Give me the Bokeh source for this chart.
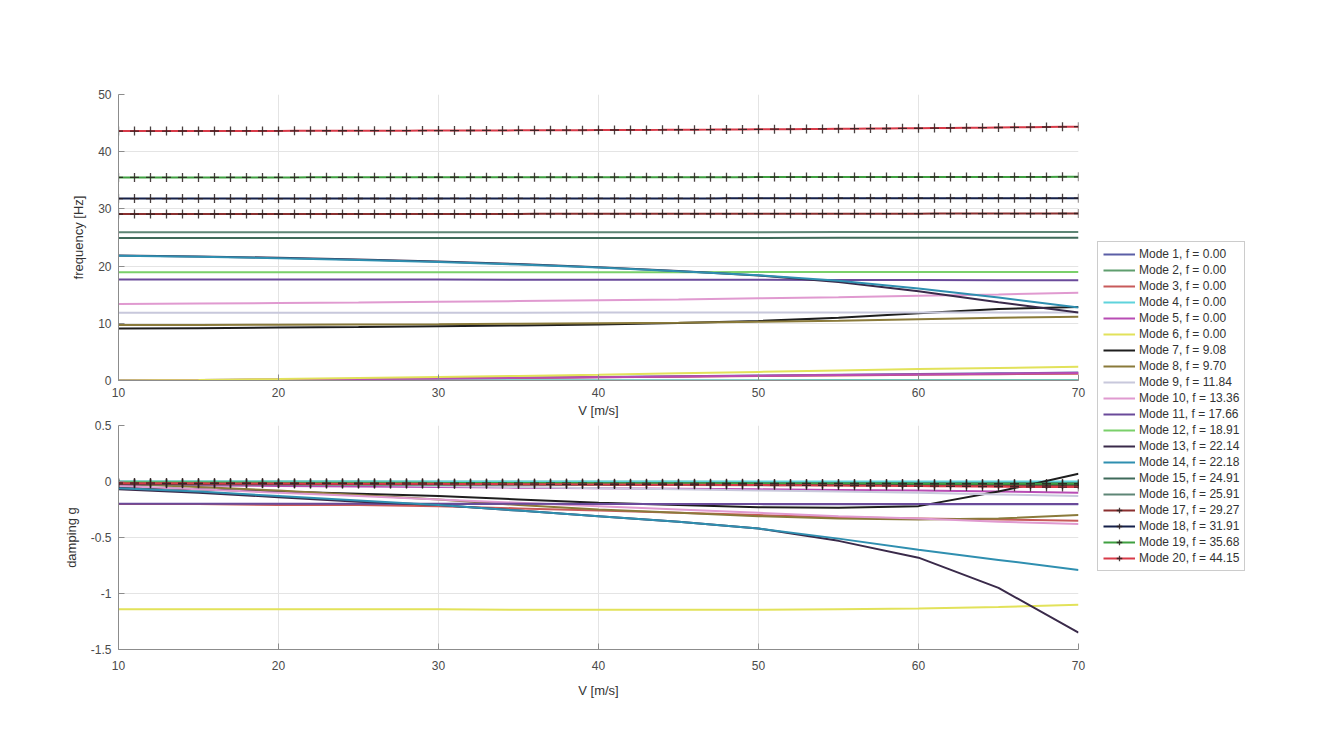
from bokeh.plotting import figure
from bokeh.layouts import row, column
from bokeh.models import Legend, LegendItem, FixedTicker, Range1d
from bokeh.embed import file_html
from bokeh.resources import INLINE

# ---------------- data ----------------
V = [10, 15, 20, 25, 30, 35, 40, 45, 50, 55, 60, 65, 70]
V_FINE = list(range(10, 71))

MODE_LABELS = [
    "Mode 1, f = 0.00", "Mode 2, f = 0.00", "Mode 3, f = 0.00", "Mode 4, f = 0.00",
    "Mode 5, f = 0.00", "Mode 6, f = 0.00", "Mode 7, f = 9.08", "Mode 8, f = 9.70",
    "Mode 9, f = 11.84", "Mode 10, f = 13.36", "Mode 11, f = 17.66", "Mode 12, f = 18.91",
    "Mode 13, f = 22.14", "Mode 14, f = 22.18", "Mode 15, f = 24.91", "Mode 16, f = 25.91",
    "Mode 17, f = 29.27", "Mode 18, f = 31.91", "Mode 19, f = 35.68", "Mode 20, f = 44.15",
]
COLORS = [
    "#5b5ea6", "#5f9e6e", "#c85a5a", "#5fd3dc", "#b84cb4", "#e2e25a", "#1e1e1e", "#8a7a3a",
    "#c8c8dc", "#e09ad0", "#6a4a9a", "#7ad06a", "#3a2a4a", "#2f8fb0", "#3f6a5a", "#5e8676",
    "#8a2f2f", "#15204a", "#3fa040", "#d83a48",
]

# frequencies [Hz], modes 1-16 at V
FREQ_1 = [0.00, 0.08, 0.17, 0.27, 0.38, 0.50, 0.62, 0.75, 0.88, 1.00, 1.12, 1.25, 1.38]
FREQ_2 = [0.00, 0.00, 0.00, 0.01, 0.01, 0.01, 0.02, 0.02, 0.02, 0.03, 0.03, 0.03, 0.04]
FREQ_3 = [0.00, 0.06, 0.14, 0.24, 0.34, 0.45, 0.56, 0.67, 0.78, 0.89, 1.00, 1.10, 1.20]
FREQ_4 = [0.00, 0.00, 0.00, 0.00, 0.00, 0.00, 0.00, 0.00, 0.00, 0.00, 0.00, 0.00, 0.00]
FREQ_5 = [0.00, 0.07, 0.15, 0.25, 0.35, 0.46, 0.57, 0.70, 0.82, 0.95, 1.07, 1.18, 1.30]
FREQ_6 = [0.00, 0.10, 0.25, 0.42, 0.60, 0.80, 1.00, 1.25, 1.50, 1.75, 2.00, 2.20, 2.40]
FREQ_7 = [9.08, 9.15, 9.25, 9.35, 9.48, 9.62, 9.80, 10.05, 10.40, 10.95, 11.75, 12.50, 12.85]
FREQ_8 = [9.70, 9.72, 9.75, 9.80, 9.85, 9.92, 10.00, 10.10, 10.25, 10.45, 10.70, 10.95, 11.15]
FREQ_9 = [11.84, 11.84, 11.85, 11.85, 11.86, 11.86, 11.87, 11.87, 11.88, 11.88, 11.89, 11.89, 11.90]
FREQ_10 = [13.36, 13.45, 13.55, 13.65, 13.76, 13.88, 14.02, 14.18, 14.36, 14.56, 14.80, 15.05, 15.35]
FREQ_11 = [17.66, 17.66, 17.65, 17.65, 17.64, 17.63, 17.62, 17.61, 17.60, 17.58, 17.56, 17.54, 17.52]
FREQ_12 = [18.91, 18.91, 18.92, 18.92, 18.93, 18.93, 18.94, 18.94, 18.95, 18.95, 18.96, 18.96, 18.97]
FREQ_13 = [21.85, 21.70, 21.45, 21.15, 20.80, 20.35, 19.80, 19.15, 18.35, 17.20, 15.60, 13.70, 11.90]
FREQ_14 = [21.80, 21.62, 21.38, 21.08, 20.72, 20.28, 19.75, 19.12, 18.40, 17.45, 16.10, 14.50, 12.75]
FREQ_15 = [24.91, 24.91, 24.91, 24.92, 24.92, 24.92, 24.93, 24.93, 24.93, 24.94, 24.94, 24.94, 24.95]
FREQ_16 = [25.91, 25.91, 25.91, 25.92, 25.92, 25.92, 25.93, 25.93, 25.93, 25.94, 25.94, 25.94, 25.95]

# damping g, modes 1-16 at V
DAMP_1 = [-0.200, -0.200, -0.200, -0.201, -0.201, -0.201, -0.202, -0.202, -0.202, -0.203, -0.203, -0.203, -0.204]
DAMP_2 = [0.000, 0.000, -0.001, -0.001, -0.002, -0.002, -0.003, -0.003, -0.004, -0.004, -0.005, -0.005, -0.006]
DAMP_3 = [-0.20, -0.20, -0.21, -0.21, -0.22, -0.24, -0.26, -0.28, -0.30, -0.32, -0.33, -0.34, -0.35]
DAMP_4 = [0.000, 0.000, 0.000, 0.000, 0.000, 0.000, 0.000, 0.000, 0.000, 0.000, 0.000, 0.000, 0.000]
DAMP_5 = [-0.03, -0.035, -0.04, -0.045, -0.05, -0.055, -0.06, -0.065, -0.07, -0.075, -0.08, -0.09, -0.10]
DAMP_6 = [-1.14, -1.14, -1.14, -1.14, -1.14, -1.145, -1.145, -1.145, -1.145, -1.14, -1.135, -1.12, -1.10]
DAMP_7 = [-0.05, -0.07, -0.09, -0.11, -0.13, -0.16, -0.19, -0.21, -0.23, -0.235, -0.22, -0.09, 0.07]
DAMP_8 = [-0.02, -0.05, -0.08, -0.12, -0.16, -0.21, -0.25, -0.28, -0.31, -0.33, -0.34, -0.33, -0.30]
DAMP_9 = [-0.01, -0.015, -0.02, -0.03, -0.04, -0.05, -0.06, -0.07, -0.08, -0.09, -0.10, -0.115, -0.13]
DAMP_10 = [-0.04, -0.07, -0.10, -0.13, -0.16, -0.19, -0.22, -0.25, -0.28, -0.31, -0.33, -0.36, -0.38]
DAMP_11 = [-0.198, -0.198, -0.199, -0.199, -0.199, -0.199, -0.200, -0.200, -0.200, -0.200, -0.200, -0.200, -0.200]
DAMP_12 = [-0.010, -0.012, -0.013, -0.015, -0.016, -0.018, -0.019, -0.021, -0.022, -0.024, -0.026, -0.028, -0.030]
DAMP_13 = [-0.07, -0.10, -0.14, -0.18, -0.21, -0.26, -0.31, -0.36, -0.42, -0.53, -0.68, -0.95, -1.35]
DAMP_14 = [-0.06, -0.09, -0.13, -0.17, -0.21, -0.26, -0.31, -0.36, -0.42, -0.51, -0.61, -0.70, -0.79]
DAMP_15 = [-0.020, -0.021, -0.022, -0.023, -0.024, -0.025, -0.026, -0.027, -0.028, -0.029, -0.030, -0.031, -0.032]
DAMP_16 = [-0.025, -0.026, -0.027, -0.028, -0.029, -0.030, -0.031, -0.032, -0.033, -0.034, -0.035, -0.036, -0.037]

# modes 17-20 at V_FINE (with markers)
FREQ_17 = [29.10, 29.10, 29.10, 29.10, 29.10, 29.11, 29.11, 29.11, 29.11, 29.11,
           29.11, 29.11, 29.12, 29.12, 29.12, 29.12, 29.12, 29.12, 29.12, 29.13,
           29.13, 29.13, 29.13, 29.13, 29.13, 29.13, 29.14, 29.14, 29.14, 29.14,
           29.14, 29.14, 29.14, 29.15, 29.15, 29.15, 29.15, 29.15, 29.15, 29.15,
           29.16, 29.16, 29.16, 29.16, 29.16, 29.16, 29.17, 29.17, 29.17, 29.17,
           29.17, 29.18, 29.18, 29.18, 29.18, 29.19, 29.19, 29.19, 29.19, 29.20,
           29.20]
FREQ_18 = [31.80, 31.80, 31.80, 31.80, 31.80, 31.80, 31.81, 31.81, 31.81, 31.81,
           31.81, 31.81, 31.81, 31.82, 31.82, 31.82, 31.82, 31.82, 31.82, 31.82,
           31.82, 31.83, 31.83, 31.83, 31.83, 31.83, 31.83, 31.83, 31.83, 31.83,
           31.84, 31.84, 31.84, 31.84, 31.84, 31.84, 31.84, 31.84, 31.85, 31.85,
           31.85, 31.85, 31.85, 31.85, 31.85, 31.86, 31.86, 31.86, 31.86, 31.86,
           31.86, 31.87, 31.87, 31.87, 31.87, 31.87, 31.88, 31.88, 31.88, 31.88,
           31.88]
FREQ_19 = [35.50, 35.50, 35.50, 35.50, 35.50, 35.51, 35.51, 35.51, 35.51, 35.51,
           35.51, 35.51, 35.52, 35.52, 35.52, 35.52, 35.52, 35.52, 35.52, 35.53,
           35.53, 35.53, 35.53, 35.53, 35.53, 35.53, 35.54, 35.54, 35.54, 35.54,
           35.54, 35.54, 35.54, 35.55, 35.55, 35.55, 35.55, 35.55, 35.55, 35.55,
           35.56, 35.56, 35.56, 35.56, 35.56, 35.56, 35.57, 35.57, 35.57, 35.57,
           35.57, 35.58, 35.58, 35.58, 35.58, 35.59, 35.59, 35.59, 35.59, 35.60,
           35.60]
FREQ_20 = [43.60, 43.60, 43.61, 43.61, 43.62, 43.62, 43.62, 43.63, 43.63, 43.64,
           43.64, 43.65, 43.65, 43.66, 43.66, 43.67, 43.67, 43.68, 43.68, 43.69,
           43.70, 43.70, 43.71, 43.72, 43.72, 43.73, 43.74, 43.75, 43.76, 43.77,
           43.78, 43.79, 43.80, 43.81, 43.82, 43.84, 43.85, 43.86, 43.88, 43.89,
           43.91, 43.93, 43.94, 43.96, 43.98, 44.00, 44.02, 44.04, 44.06, 44.08,
           44.10, 44.13, 44.15, 44.18, 44.20, 44.23, 44.26, 44.29, 44.32, 44.35,
           44.38]
DAMP_17 = [-0.020, -0.020, -0.020, -0.020, -0.020, -0.021, -0.021, -0.021, -0.021, -0.021,
           -0.021, -0.022, -0.022, -0.022, -0.022, -0.022, -0.023, -0.023, -0.023, -0.023,
           -0.023, -0.024, -0.024, -0.024, -0.024, -0.024, -0.025, -0.025, -0.025, -0.025,
           -0.025, -0.026, -0.026, -0.026, -0.026, -0.026, -0.027, -0.027, -0.027, -0.027,
           -0.027, -0.028, -0.028, -0.028, -0.028, -0.028, -0.029, -0.029, -0.029, -0.029,
           -0.029, -0.030, -0.030, -0.030, -0.030, -0.030, -0.030, -0.030, -0.030, -0.030,
           -0.030]
DAMP_18 = [-0.015, -0.015, -0.015, -0.015, -0.015, -0.015, -0.015, -0.015, -0.015, -0.015,
           -0.016, -0.016, -0.016, -0.016, -0.016, -0.016, -0.016, -0.016, -0.016, -0.016,
           -0.017, -0.017, -0.017, -0.017, -0.017, -0.017, -0.017, -0.017, -0.017, -0.017,
           -0.018, -0.018, -0.018, -0.018, -0.018, -0.018, -0.018, -0.018, -0.018, -0.018,
           -0.019, -0.019, -0.019, -0.019, -0.019, -0.019, -0.019, -0.019, -0.019, -0.019,
           -0.020, -0.020, -0.020, -0.020, -0.020, -0.020, -0.020, -0.020, -0.020, -0.020,
           -0.020]
DAMP_19 = [-0.010, -0.010, -0.010, -0.010, -0.010, -0.010, -0.010, -0.010, -0.010, -0.010,
           -0.012, -0.012, -0.012, -0.012, -0.012, -0.012, -0.012, -0.012, -0.012, -0.012,
           -0.014, -0.014, -0.014, -0.014, -0.014, -0.014, -0.014, -0.014, -0.014, -0.014,
           -0.016, -0.016, -0.016, -0.016, -0.016, -0.016, -0.016, -0.016, -0.016, -0.016,
           -0.018, -0.018, -0.018, -0.018, -0.018, -0.018, -0.018, -0.018, -0.018, -0.018,
           -0.020, -0.020, -0.020, -0.020, -0.020, -0.020, -0.020, -0.020, -0.020, -0.020,
           -0.020]
DAMP_20 = [-0.015, -0.015, -0.015, -0.016, -0.016, -0.016, -0.017, -0.017, -0.017, -0.018,
           -0.018, -0.018, -0.019, -0.019, -0.019, -0.020, -0.020, -0.020, -0.021, -0.021,
           -0.021, -0.022, -0.022, -0.023, -0.023, -0.024, -0.024, -0.025, -0.025, -0.026,
           -0.026, -0.027, -0.027, -0.028, -0.028, -0.029, -0.029, -0.030, -0.031, -0.031,
           -0.032, -0.033, -0.033, -0.034, -0.035, -0.036, -0.037, -0.038, -0.039, -0.040,
           -0.041, -0.042, -0.043, -0.044, -0.045, -0.046, -0.047, -0.048, -0.049, -0.050,
           -0.050]

FREQS = [FREQ_1, FREQ_2, FREQ_3, FREQ_4, FREQ_5, FREQ_6, FREQ_7, FREQ_8, FREQ_9, FREQ_10,
         FREQ_11, FREQ_12, FREQ_13, FREQ_14, FREQ_15, FREQ_16, FREQ_17, FREQ_18, FREQ_19, FREQ_20]
DAMPS = [DAMP_1, DAMP_2, DAMP_3, DAMP_4, DAMP_5, DAMP_6, DAMP_7, DAMP_8, DAMP_9, DAMP_10,
         DAMP_11, DAMP_12, DAMP_13, DAMP_14, DAMP_15, DAMP_16, DAMP_17, DAMP_18, DAMP_19, DAMP_20]
MARKED = [False] * 16 + [True] * 4

X_TICKS = [10, 20, 30, 40, 50, 60, 70]
F_TICKS = [0, 10, 20, 30, 40, 50]
G_TICKS = [-1.5, -1.0, -0.5, 0.0, 0.5]
G_TICK_LABELS = {-1.5: "-1.5", -1.0: "-1", -0.5: "-0.5", 0.0: "0", 0.5: "0.5"}

# ---------------- styling ----------------
FONT = "Liberation Sans"
TICK_COLOR = "#4a4a4a"
AXIS_COLOR = "#8c8c8c"
GRID_COLOR = "#e4e4e4"
MARKER_COLOR = "#2a2020"
LW = 2


def style(p, xlabel, ylabel, xstand, xlabstand):
    p.outline_line_color = None
    p.background_fill_color = "white"
    p.border_fill_color = "white"
    for ax in (p.xaxis[0], p.yaxis[0]):
        ax.axis_line_color = AXIS_COLOR
        ax.major_tick_line_color = AXIS_COLOR
        ax.minor_tick_line_color = None
        ax.major_tick_in = 6
        ax.major_tick_out = 0
        ax.major_label_text_font = FONT
        ax.major_label_text_font_size = "12px"
        ax.major_label_text_color = TICK_COLOR
        ax.axis_label_text_font = FONT
        ax.axis_label_text_font_size = "13px"
        ax.axis_label_text_font_style = "normal"
        ax.axis_label_text_color = "#333333"
    p.xaxis.axis_label = xlabel
    p.yaxis.axis_label = ylabel
    p.xaxis.ticker = FixedTicker(ticks=X_TICKS)
    p.xaxis.major_label_standoff = xstand
    p.xaxis.axis_label_standoff = xlabstand
    p.yaxis.major_label_standoff = 7
    p.yaxis.axis_label_standoff = 9
    p.xgrid.grid_line_color = GRID_COLOR
    p.ygrid.grid_line_color = GRID_COLOR
    p.xgrid.ticker = FixedTicker(ticks=X_TICKS)


TOP_B, F1_H, B1_B, T2_B, F2_H, B2_B = 94, 286, 40, 5, 224, 52
LEFT_B, FRAME_W, RIGHT_B = 118, 960, 10

p1 = figure(frame_width=FRAME_W, frame_height=F1_H, x_range=Range1d(10, 70), y_range=Range1d(0, 50),
            output_backend="svg", toolbar_location=None,
            min_border_left=LEFT_B, min_border_right=RIGHT_B, min_border_top=TOP_B, min_border_bottom=B1_B)
style(p1, "V [m/s]", "frequency [Hz]", 7, 3)
p1.yaxis.ticker = FixedTicker(ticks=F_TICKS)
p1.ygrid.ticker = FixedTicker(ticks=F_TICKS)

p2 = figure(frame_width=FRAME_W, frame_height=F2_H, x_range=Range1d(10, 70), y_range=Range1d(-1.5, 0.5),
            output_backend="svg", toolbar_location=None,
            min_border_left=LEFT_B, min_border_right=RIGHT_B, min_border_top=T2_B, min_border_bottom=B2_B)
style(p2, "V [m/s]", "damping g", 11, 10)
p2.yaxis.ticker = FixedTicker(ticks=G_TICKS)
p2.ygrid.ticker = FixedTicker(ticks=G_TICKS)
p2.yaxis.major_label_overrides = G_TICK_LABELS

for i in range(20):
    xs = V_FINE if MARKED[i] else V
    c = COLORS[i]
    for p, ys in ((p1, FREQS[i]), (p2, DAMPS[i])):
        p.line(xs, ys, line_color=c, line_width=LW)
        if MARKED[i]:
            p.scatter(xs, ys, marker="cross", size=9, line_color=MARKER_COLOR,
                      line_width=1.3, line_alpha=0.85)

# ---------------- legend panel ----------------
TOTAL_H = TOP_B + F1_H + B1_B + T2_B + F2_H + B2_B
pleg = figure(width=180, height=TOTAL_H, x_range=Range1d(0, 1), y_range=Range1d(0, 1),
              output_backend="svg", toolbar_location=None,
              x_axis_location=None, y_axis_location=None,
              min_border_left=0, min_border_right=0, min_border_top=0, min_border_bottom=0)
pleg.outline_line_color = None
pleg.xgrid.visible = False
pleg.ygrid.visible = False

items = []
for i in range(20):
    rs = [pleg.line([5, 6], [5, 6], line_color=COLORS[i], line_width=LW)]
    if MARKED[i]:
        rs.append(pleg.scatter([5.5], [5.5], marker="cross", size=9, line_color=MARKER_COLOR,
                               line_width=1.3, line_alpha=0.85))
    items.append(LegendItem(label=MODE_LABELS[i], renderers=rs))

LEG_TOP = 243
LEG_H = 328
legend = Legend(items=items, location=(9, TOTAL_H - LEG_TOP - LEG_H),
                label_text_font=FONT, label_text_font_size="12px", label_text_color="#333333",
                label_height=14, glyph_height=14, glyph_width=32, label_standoff=4,
                spacing=2, padding=5, margin=0,
                border_line_color="#9a9a9a", border_line_width=1,
                background_fill_color="white", background_fill_alpha=1.0)
pleg.add_layout(legend)

layout = row(column(p1, p2), pleg)
open("out.html", "w").write(file_html(layout, INLINE))
